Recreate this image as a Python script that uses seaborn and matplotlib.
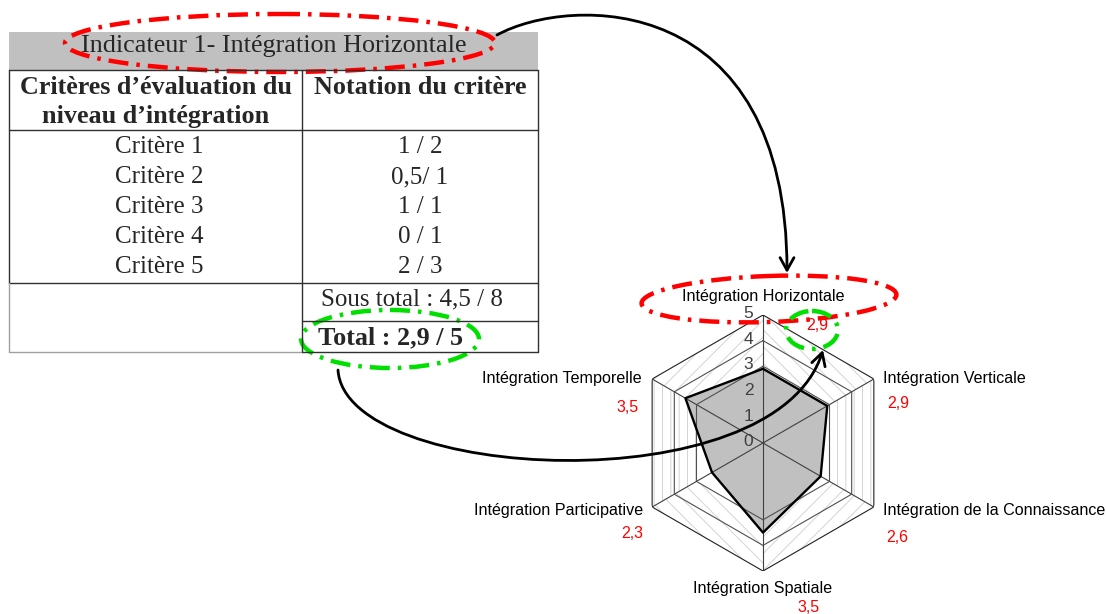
import matplotlib
matplotlib.use("Agg")
import matplotlib.pyplot as plt
import numpy as np
import seaborn as sns
from matplotlib.patches import Ellipse, FancyArrowPatch, Rectangle
from matplotlib.path import Path

# table content
indicator_title = "Indicateur 1- Intégration Horizontale"
header_left = ["Critères d’évaluation du", "niveau d’intégration"]
header_right = "Notation du critère"
criteria = ["Critère 1", "Critère 2", "Critère 3", "Critère 4", "Critère 5"]
notes = ["1 / 2", "0,5/ 1", "1 / 1", "0 / 1", "2 / 3"]
subtotal = "Sous total : 4,5 / 8"
total = "Total : 2,9 / 5"

# radar content
axis_names = ["Intégration Horizontale", "Intégration Verticale",
              "Intégration de la Connaissance", "Intégration Spatiale",
              "Intégration Participative", "Intégration Temporelle"]
scores = [2.9, 2.9, 2.6, 3.5, 2.3, 3.5]
rings = [3, 4, 5]
r_ticks = [0, 1, 2, 3, 4, 5]

sns.set_style("white")
plt.rcParams["hatch.linewidth"] = 0.7
SERIF = "Liberation Serif"
SANS = "Liberation Sans"

W, H = 1106, 614
fig = plt.figure(figsize=(W / 100, H / 100), dpi=100)

# ---- radar chart (polar axes, hexagonal grid) ----
cx, cy, R = 763, 443, 128
rad = fig.add_axes([(cx - R) / W, (H - cy - R) / H, 2 * R / W, 2 * R / H],
                   projection="polar")
rad.set_theta_offset(np.pi / 2)
rad.set_theta_direction(-1)
rad.grid(False)
rad.spines["polar"].set_visible(False)
rad.set_xticks([])
rad.set_yticks([])
rad.patch.set_facecolor("none")

n = len(axis_names)
theta = np.linspace(0, 2 * np.pi, n, endpoint=False)
theta_c = np.append(theta, 2 * np.pi)

# textured bands between ring 3 and ring 5, one trapezoid per side
hatches = ["\\\\", "||", "//", "\\\\", "||", "//"]
for i in range(n):
    t0, t1 = theta_c[i], theta_c[i + 1]
    rad.fill([t0, t0, t1, t1], [rings[0], rings[-1], rings[-1], rings[0]],
             facecolor="white", edgecolor="#d4d4d4", lw=0, hatch=hatches[i], zorder=1)

# data polygon
r_c = np.append(scores, scores[0])
rad.fill(theta_c, r_c, color="#c0c0c0", lw=0, zorder=2)

# grid: spokes + hexagon rings
for t in theta:
    rad.plot([t, t], [0, rings[-1]], color="#404040", lw=0.8, zorder=3)
for lev in rings:
    rad.plot(theta_c, [lev] * (n + 1), color="#202020" if lev == rings[-1] else "#505050",
             lw=0.8, zorder=3)

sns.lineplot(x=theta_c, y=r_c, sort=False, estimator=None, ax=rad,
             color="black", lw=1.7, zorder=4)
rad.set_xlabel("")
rad.set_ylabel("")
rad.set_ylim(0, 5)

for r in r_ticks:
    rad.annotate(str(r), xy=(0, r), xytext=(-7, 1), textcoords="offset points",
                 ha="right", va="center", color="#404040", fontsize=12.5,
                 family=SANS, zorder=5)

# ---- overlay in pixel coordinates: table, labels, annotations ----
ov = fig.add_axes([0, 0, 1, 1])
ov.set_xlim(0, W)
ov.set_ylim(H, 0)
ov.axis("off")
ov.patch.set_facecolor("none")

xl, xm, xr = 9, 302, 538
ov.add_patch(Rectangle((xl, 32), xr - xl, 38, facecolor="#c0c0c0", lw=0))
line_kw = dict(color="#303030", lw=1.0)
ov.plot([xl, xr], [70, 70], **line_kw)
ov.plot([xl, xr], [130, 130], **line_kw)
ov.plot([xl, xr], [283, 283], **line_kw)
ov.plot([xm, xr], [321, 321], **line_kw)
ov.plot([xm, xr], [352, 352], **line_kw)
ov.plot([xl, xm], [352, 352], color="#a0a0a0", lw=1.0)
ov.plot([xl, xl], [70, 283], **line_kw)
ov.plot([xl, xl], [283, 352], color="#a0a0a0", lw=1.0)
ov.plot([xm, xm], [70, 352], **line_kw)
ov.plot([xr, xr], [70, 352], **line_kw)

ov.text(274, 46, indicator_title, ha="center", va="center", fontsize=18.8, family=SERIF)
for k, s in enumerate(header_left):
    ov.text(156, 87 + 30 * k, s, ha="center", va="center", fontsize=18.8,
            family=SERIF, weight="bold")
ov.text(420, 87, header_right, ha="center", va="center", fontsize=18.8,
        family=SERIF, weight="bold")
for k, (c, nt) in enumerate(zip(criteria, notes)):
    y = 147 + 30 * k
    ov.text(159, y, c, ha="center", va="center", fontsize=18, family=SERIF)
    ov.text(420, y, nt, ha="center", va="center", fontsize=18, family=SERIF)
ov.text(412, 299, subtotal, ha="center", va="center", fontsize=18, family=SERIF)
ov.text(318, 338, total, ha="left", va="center", fontsize=18.8, family=SERIF, weight="bold")

# radar labels (name, then red score)
label_pos = [((763, 297, "center"), (817, 326, "center")),
             ((883, 378, "left"), (898, 404, "center")),
             ((883, 510, "left"), (897, 537, "center")),
             ((763, 589, "center"), (809, 607, "center")),
             ((643, 510, "right"), (643, 534, "right")),
             ((642, 379, "right"), (639, 407, "right"))]
for name, v, ((x0, y0, ha0), (x1, y1, ha1)) in zip(axis_names, scores, label_pos):
    ov.text(x0, y0, name, ha=ha0, va="center", fontsize=11.6, family=SANS, color="black")
    ov.text(x1, y1, f"{v:.1f}".replace(".", ","), ha=ha1, va="center",
            fontsize=11.5, family=SANS, color="red")

# dash-dot ellipses
dd = (0, (4.5, 1.8, 0.8, 1.8))
ov.add_patch(Ellipse((280, 43), 430, 58, fill=False, ec="red", lw=3.2, ls=dd))
ov.add_patch(Ellipse((769, 299), 255, 46, angle=-2, fill=False, ec="red", lw=3.2, ls=dd))
ov.add_patch(Ellipse((390, 339), 178, 58, fill=False, ec="#00e000", lw=3.2, ls=dd))
ov.add_patch(Ellipse((812, 330), 52, 38, fill=False, ec="#00e000", lw=3.2, ls=dd))

# curved arrows
curve = [Path.MOVETO, Path.CURVE4, Path.CURVE4, Path.CURVE4]
p1 = Path([(497, 35), (570, -5), (787, -10), (787, 273)], curve)
p2 = Path([(338, 370), (345, 482), (775, 505), (823, 350)], curve)
for p in (p1, p2):
    ov.add_patch(FancyArrowPatch(path=p, arrowstyle="->,head_length=0.45,head_width=0.25",
                                 mutation_scale=20, color="black", lw=2.0))

fig.savefig("out.png", dpi=100)
